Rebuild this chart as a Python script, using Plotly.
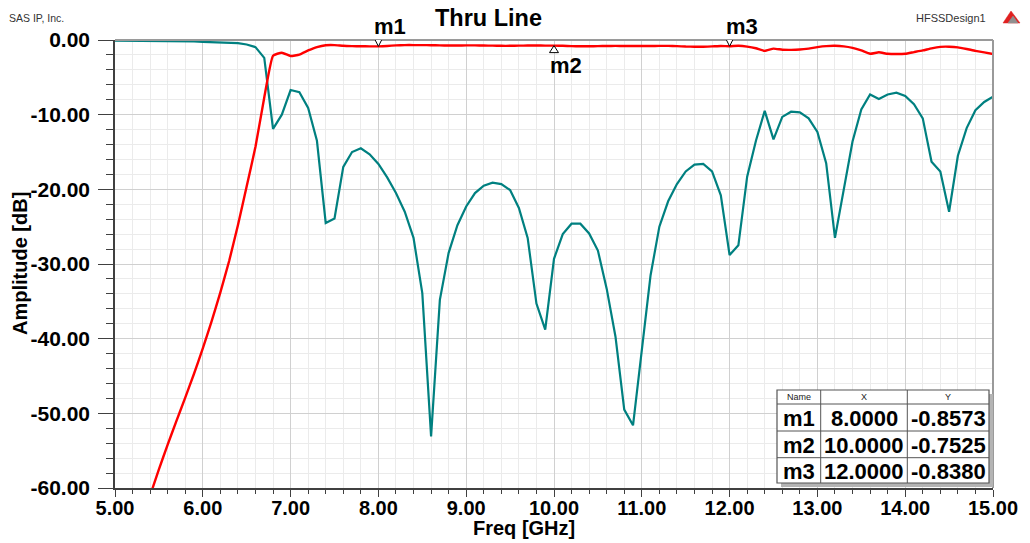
import plotly.graph_objects as go

# ---------------- data ----------------
freq = [round(5.0 + 0.1 * i, 1) for i in range(101)]

s11_db = [-0.10, -0.10, -0.10, -0.11, -0.12, -0.12, -0.13, -0.14, -0.15, -0.18,
          -0.25, -0.28, -0.30, -0.35, -0.42, -0.60, -0.95, -2.40, -11.9, -10.0,
          -6.7, -7.0, -9.1, -13.5, -24.5, -23.9, -17.0, -15.0, -14.5, -15.3,
          -16.6, -18.4, -20.5, -23.0, -26.5, -33.9, -53.1, -34.8, -28.5, -24.8,
          -22.3, -20.5, -19.5, -19.1, -19.3, -20.1, -22.5, -26.5, -35.3, -38.8,
          -29.3, -26.0, -24.6, -24.6, -25.9, -28.2, -33.3, -39.7, -49.5, -51.6,
          -41.5, -31.5, -25.0, -21.6, -19.3, -17.6, -16.7, -16.6, -17.6, -20.8,
          -28.8, -27.5, -18.3, -13.5, -9.5, -13.3, -10.3, -9.6, -9.7, -10.5,
          -12.3, -16.5, -26.5, -19.8, -13.6, -9.3, -7.3, -7.9, -7.3, -7.05,
          -7.5, -8.6, -10.5, -16.3, -17.6, -23.0, -15.5, -11.8, -9.4, -8.3,
          -7.6]

s21_db = [None, None, None, None, -61.0, -57.5, -54.2, -51.0, -47.9, -44.7,
          -41.3, -37.7, -33.8, -29.6, -24.8, -19.6, -14.3, -7.7, -2.1, -1.7,
          -2.15, -1.95, -1.4, -0.95, -0.70, -0.68, -0.78, -0.82, -0.84, -0.85,
          -0.857, -0.80, -0.72, -0.68, -0.68, -0.68, -0.70, -0.72, -0.74, -0.74,
          -0.72, -0.72, -0.74, -0.76, -0.78, -0.78, -0.76, -0.74, -0.74, -0.75,
          -0.7525, -0.78, -0.82, -0.84, -0.84, -0.82, -0.80, -0.79, -0.80, -0.80,
          -0.80, -0.80, -0.79, -0.79, -0.82, -0.88, -0.90, -0.90, -0.86, -0.80,
          -0.838, -0.78, -0.88, -1.10, -1.45, -1.15, -1.30, -1.32, -1.28, -1.15,
          -0.95, -0.82, -0.78, -0.85, -1.05, -1.40, -1.85, -1.65, -1.85, -1.88,
          -1.85, -1.62, -1.40, -1.12, -0.92, -0.90, -0.98, -1.20, -1.45, -1.65,
          -1.87]

marker_names = ["m1", "m2", "m3"]
marker_x = [8.0, 10.0, 12.0]
marker_y = [-0.8573, -0.7525, -0.8380]
marker_dir = ["down", "up", "down"]

x_ticks = [5, 6, 7, 8, 9, 10, 11, 12, 13, 14, 15]
y_ticks = [0, -10, -20, -30, -40, -50, -60]

title_text = "Thru Line"
x_title = "Freq [GHz]"
y_title = "Amplitude [dB]"

# ---------------- layout geometry (pixels) ----------------
FIG_W, FIG_H = 1030, 543
L, R, T, B = 115, 993, 40, 488
PW, PH = R - L, B - T


def fx(px):
    return (px - L) / PW


def fy(py):
    return (B - py) / PH


FONT = "Liberation Sans, Arial, sans-serif"
TEAL = "#008080"
RED = "#ff0000"

fig = go.Figure()
fig.add_trace(go.Scatter(x=freq, y=s11_db, mode="lines",
                         line=dict(color=TEAL, width=2.2), showlegend=False))
fig.add_trace(go.Scatter(x=freq, y=s21_db, mode="lines",
                         line=dict(color=RED, width=2.4, shape="spline", smoothing=0.4),
                         showlegend=False, connectgaps=False))

shapes = []
annotations = []

# frame top / right (gray)
shapes.append(dict(type="line", xref="paper", yref="paper", x0=0, x1=1, y0=1, y1=1,
                   line=dict(color="#9a9a9a", width=2), layer="above"))
shapes.append(dict(type="line", xref="paper", yref="paper", x0=1, x1=1, y0=0, y1=1,
                   line=dict(color="#9a9a9a", width=2), layer="above"))

# markers
for name, mx, my, d in zip(marker_names, marker_x, marker_y, marker_dir):
    if d == "down":
        path = "M-4.5,9 L4.5,9 L0,0 Z"
        ysh = 20
    else:
        path = "M-4.5,-7 L4.5,-7 L0,0 Z"
        ysh = -20
    shapes.append(dict(type="path", xref="x", yref="y", xsizemode="pixel", ysizemode="pixel",
                       xanchor=mx, yanchor=my, path=path,
                       line=dict(color="#000000", width=1), fillcolor="white", layer="above"))
    annotations.append(dict(x=mx, y=my, xref="x", yref="y", text=name, showarrow=False,
                            xshift=12, yshift=ysh, xanchor="center", yanchor="middle",
                            font=dict(family=FONT, size=22, color="black", weight="bold")))

# marker table
cols = [777, 820.7, 907.3, 989]
rows = [390, 404, 431, 457.7, 483]
# shadow
shapes.append(dict(type="rect", xref="paper", yref="paper",
                   x0=fx(cols[0] + 4), x1=fx(cols[-1] + 4), y0=fy(rows[-1] + 4), y1=fy(rows[0] + 4),
                   fillcolor="#b4b4b4", line=dict(width=0), layer="above"))
shapes.append(dict(type="rect", xref="paper", yref="paper",
                   x0=fx(cols[0]), x1=fx(cols[-1]), y0=fy(rows[-1]), y1=fy(rows[0]),
                   fillcolor="white", line=dict(color="#555555", width=1.2), layer="above"))
for cx in cols[1:-1]:
    shapes.append(dict(type="line", xref="paper", yref="paper", x0=fx(cx), x1=fx(cx),
                       y0=fy(rows[-1]), y1=fy(rows[0]),
                       line=dict(color="#555555", width=1), layer="above"))
for ry in rows[1:-1]:
    shapes.append(dict(type="line", xref="paper", yref="paper", x0=fx(cols[0]), x1=fx(cols[-1]),
                       y0=fy(ry), y1=fy(ry),
                       line=dict(color="#555555", width=1), layer="above"))

headers = ["Name", "X", "Y"]
for j, h in enumerate(headers):
    annotations.append(dict(x=fx((cols[j] + cols[j + 1]) / 2), y=fy((rows[0] + rows[1]) / 2),
                            xref="paper", yref="paper", text=h, showarrow=False,
                            xanchor="center", yanchor="middle",
                            font=dict(family=FONT, size=9, color="#222222")))
for i, (name, mx, my) in enumerate(zip(marker_names, marker_x, marker_y)):
    cells = [name, f"{mx:.4f}", f"{my:.4f}"]
    for j, c in enumerate(cells):
        annotations.append(dict(x=fx((cols[j] + cols[j + 1]) / 2),
                                y=fy((rows[i + 1] + rows[i + 2]) / 2 + 1),
                                xref="paper", yref="paper", text=c, showarrow=False,
                                xanchor="center", yanchor="middle",
                                font=dict(family=FONT, size=22, color="black", weight="bold")))

# titles and corner texts
annotations.append(dict(x=fx(488), y=fy(18), xref="paper", yref="paper", text=title_text,
                        showarrow=False, xanchor="center", yanchor="middle",
                        font=dict(family=FONT, size=23.5, color="black", weight="bold")))
annotations.append(dict(x=fx(524), y=fy(528), xref="paper", yref="paper", text=x_title,
                        showarrow=False, xanchor="center", yanchor="middle",
                        font=dict(family=FONT, size=20, color="black", weight="bold")))
annotations.append(dict(x=fx(20), y=fy(264), xref="paper", yref="paper", text=y_title,
                        showarrow=False, xanchor="center", yanchor="middle", textangle=-90,
                        font=dict(family=FONT, size=20, color="black", weight="bold")))
annotations.append(dict(x=fx(7), y=fy(18), xref="paper", yref="paper", text="SAS IP, Inc.",
                        showarrow=False, xanchor="left", yanchor="middle",
                        font=dict(family=FONT, size=10.5, color="#333333")))
annotations.append(dict(x=fx(988), y=fy(18), xref="paper", yref="paper", text="HFSSDesign1",
                        showarrow=False, xanchor="right", yanchor="middle",
                        font=dict(family=FONT, size=11, color="#333333")))

# small logo
shapes.append(dict(type="path", xref="paper", yref="paper",
                   path=f"M{fx(1003)},{fy(23)} L{fx(1011)},{fy(11)} L{fx(1020)},{fy(23)} Z",
                   fillcolor="#e02020", line=dict(color="#e02020", width=0.5), layer="above"))
shapes.append(dict(type="path", xref="paper", yref="paper",
                   path=f"M{fx(1008)},{fy(23)} L{fx(1013)},{fy(16)} L{fx(1018)},{fy(23)} Z",
                   fillcolor="#909090", line=dict(color="#909090", width=0.5), layer="above"))

fig.update_layout(
    width=FIG_W, height=FIG_H,
    margin=dict(l=L, r=FIG_W - R, t=T, b=FIG_H - B, pad=0),
    paper_bgcolor="white", plot_bgcolor="white",
    showlegend=False,
    shapes=shapes, annotations=annotations,
    xaxis=dict(range=[5, 15], tickmode="array", tickvals=x_ticks,
               ticktext=[f"{v:.2f}" for v in x_ticks],
               showgrid=True, gridcolor="#d0d0d0", gridwidth=1,
               zeroline=False, showline=True, linecolor="#404040", linewidth=1.5,
               ticks="outside", ticklen=7, tickcolor="#404040", tickwidth=1,
               ticklabelstandoff=-6,
               tickfont=dict(family=FONT, size=20, color="black", weight="bold"),
               minor=dict(tick0=5, dtick=0.2, showgrid=True, gridcolor="#ebebeb", gridwidth=1,
                          ticks="outside", ticklen=4, tickcolor="#404040")),
    yaxis=dict(range=[-60, 0], tickmode="array", tickvals=y_ticks,
               ticktext=[f"{v:.2f}" for v in y_ticks],
               showgrid=True, gridcolor="#d0d0d0", gridwidth=1,
               zeroline=False, showline=True, linecolor="#404040", linewidth=1.5,
               ticks="outside", ticklen=15, tickcolor="#404040", tickwidth=1,
               ticklabelstandoff=4,
               tickfont=dict(family=FONT, size=21, color="black", weight="bold"),
               minor=dict(tick0=0, dtick=2, showgrid=True, gridcolor="#ebebeb", gridwidth=1,
                          ticks="outside", ticklen=7, tickcolor="#404040")),
)

fig.write_html("out.html", config={"displayModeBar": False})

# remove the default page margin so the figure sits at the window's top-left corner
with open("out.html", "r", encoding="utf-8") as f:
    html = f.read()
html = html.replace("<head>", "<head><style>html,body{margin:0;padding:0;overflow:hidden;}</style>", 1)
with open("out.html", "w", encoding="utf-8") as f:
    f.write(html)
